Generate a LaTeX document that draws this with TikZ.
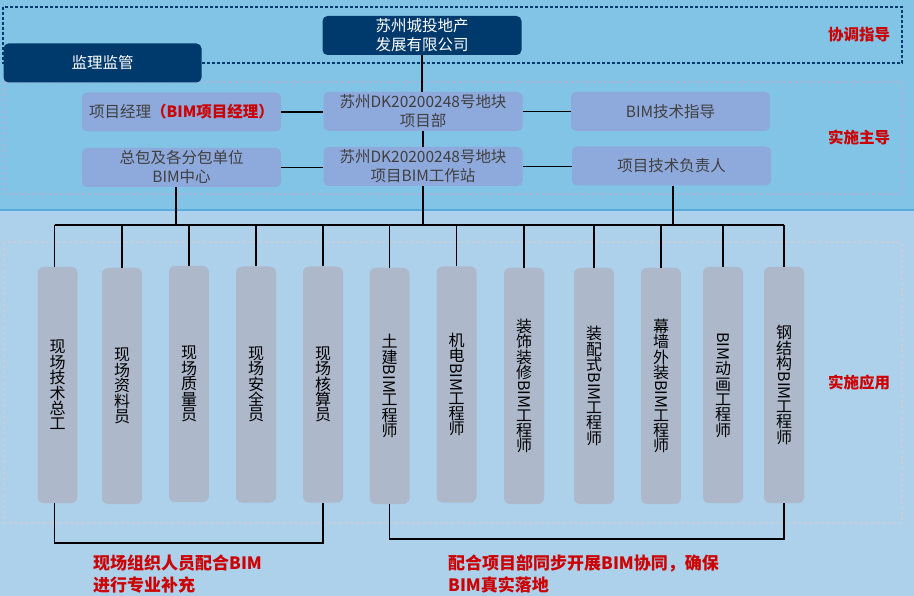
\documentclass[tikz,border=0pt]{standalone}
\usepackage{fontspec}
\usepackage{graphicx}
\setmainfont{Noto Sans CJK SC}
\definecolor{topbg}{HTML}{82C4E6}
\definecolor{lowbg}{HTML}{AED1EB}
\definecolor{sepc}{HTML}{5AAADC}
\definecolor{navy}{HTML}{003A6C}
\definecolor{rowc}{HTML}{8EA9DB}
\definecolor{tallc}{HTML}{ADB8CA}
\definecolor{dotmid}{HTML}{A9B3DD}
\definecolor{dotlow}{HTML}{C5CCDA}
\definecolor{redc}{HTML}{CC0000}
\definecolor{txtg}{HTML}{404040}
\newcommand\vbim{\raisebox{0.85em}{\rotatebox{-90}{BIM}}}
\newcommand\vfont{\fontsize{16}{15.4}\selectfont\lineskiplimit=-3pt\lineskip=1pt}
\begin{document}
\begin{tikzpicture}[x=1pt,y=-1pt,
  navybox/.style={fill=navy, rounded corners=5pt, minimum width=199pt, minimum height=39pt, inner sep=0pt, align=center, text=white, font=\fontsize{15.5}{19}\selectfont},
  rowbox/.style={fill=rowc, rounded corners=5pt, minimum width=199pt, minimum height=39pt, inner sep=0pt, align=center, text=txtg, font=\fontsize{15.5}{19}\selectfont},
  tall/.style={fill=tallc, rounded corners=6pt, minimum width=40pt, minimum height=236pt, inner sep=0pt, align=center, text=black, font=\vfont},
  conn/.style={draw=black, line width=1.1pt},
  sidelab/.style={text=redc, font=\fontsize{15.5}{18}\selectfont\bfseries, inner sep=0pt},
  bottomlab/.style={text=redc, font=\fontsize{17}{22}\selectfont\bfseries, inner sep=0pt, align=left, anchor=north west}]
\useasboundingbox (0,0) rectangle (914,596);
% backgrounds
\fill[topbg] (0,0) rectangle (914,210);
\fill[lowbg] (0,210) rectangle (914,596);
\draw[sepc, line width=1.5pt] (0,210) -- (914,210);
% dotted frames
\draw[navy, line width=2.8pt, dash pattern=on 2.6pt off 2.4pt] (3,7) rectangle (902,63);
\draw[dotmid, line width=2.8pt, dash pattern=on 3pt off 2.6pt] (4,82) rectangle (902,194);
\draw[dotlow, line width=2.8pt, dash pattern=on 3pt off 2.6pt] (4,242) rectangle (902,523);
% top boxes
\node[navybox] (firm) at (422,35.5) {苏州城投地产\\发展有限公司};
\node[navybox, minimum width=198pt] (jl) at (102.5,63) {监理监管};
% row boxes
\node[rowbox] (pm) at (181.5,112) {项目经理{\color{redc}\bfseries（BIM项目经理）}};
\node[rowbox] (xmb) at (423,111.5) {苏州DK20200248号地块\\项目部};
\node[rowbox] (bimg) at (670.5,111.5) {BIM技术指导};
\node[rowbox] (zb) at (181.5,167.5) {总包及各分包单位\\BIM中心};
\node[rowbox] (gzz) at (423,166.5) {苏州DK20200248号地块\\项目BIM工作站};
\node[rowbox] (jsfz) at (671.5,166) {项目技术负责人};
% tall boxes
\node[tall] (t1) at (57.5,385) {现\\场\\技\\术\\总\\工};
\node[tall] (t2) at (122,386) {现\\场\\资\\料\\员};
\node[tall] (t3) at (189,384) {现\\场\\质\\量\\员};
\node[tall] (t4) at (256,384.5) {现\\场\\安\\全\\员};
\node[tall] (t5) at (323,384.5) {现\\场\\核\\算\\员};
\node[tall] (t6) at (389.5,386) {土\\建\\\vbim\\工\\程\\师};
\node[tall] (t7) at (456.5,384.5) {机\\电\\\vbim\\工\\程\\师};
\node[tall] (t8) at (524,386) {装\\饰\\装\\修\\\vbim\\工\\程\\师};
\node[tall] (t9) at (594,386) {装\\配\\式\\\vbim\\工\\程\\师};
\node[tall] (t10) at (661,386) {幕\\墙\\外\\装\\\vbim\\工\\程\\师};
\node[tall] (t11) at (723,385) {\vbim\\动\\画\\工\\程\\师};
\node[tall] (t12) at (784,385) {钢\\结\\构\\\vbim\\工\\程\\师};
% connectors
\coordinate (bus) at (0,225);
\coordinate (bl) at (0,543);
\coordinate (br) at (0,539);
\draw[conn] (firm.south) -- (firm.south |- xmb.north);
\draw[conn] (xmb.south) -- (gzz.north);
\draw[conn] (pm.east) -- (pm.east -| xmb.west);
\draw[conn] (xmb.east) -- (xmb.east -| bimg.west);
\draw[conn] (zb.east) -- (zb.east -| gzz.west);
\draw[conn] (gzz.east) -- (gzz.east -| jsfz.west);
\draw[conn] (gzz.south) -- (gzz.south |- bus);
\draw[conn] ([xshift=-5.5pt]zb.south) -- ([xshift=-5.5pt]zb.south |- bus);
\draw[conn] ([xshift=1.5pt]jsfz.south) -- ([xshift=1.5pt]jsfz.south |- bus);
\draw[conn] ([xshift=-3pt]t1.north |- bus) -- (t12.north |- bus);
\draw[conn] ([xshift=-3pt]t1.north) -- ([xshift=-3pt]t1.north |- bus);
\foreach \i in {2,...,12} {\draw[conn] (t\i.north) -- (t\i.north |- bus);}
\draw[conn] ([xshift=-3pt]t1.south) -- ([xshift=-3pt]t1.south |- bl) -- (t5.south |- bl) -- (t5.south);
\draw[conn] (t6.south) -- (t6.south |- br) -- (t12.south |- br) -- (t12.south);
% side labels
\node[sidelab] (l1) at (859,35) {协调指导};
\node[sidelab] (l2) at (859,137) {实施主导};
\node[sidelab] (l3) at (859,383) {实施应用};
% bottom labels
\node[bottomlab] (b1) at (93,555) {现场组织人员配合BIM\\进行专业补充};
\node[bottomlab] (b2) at (448,555) {配合项目部同步开展BIM协同，确保\\BIM真实落地};
\end{tikzpicture}
\end{document}
